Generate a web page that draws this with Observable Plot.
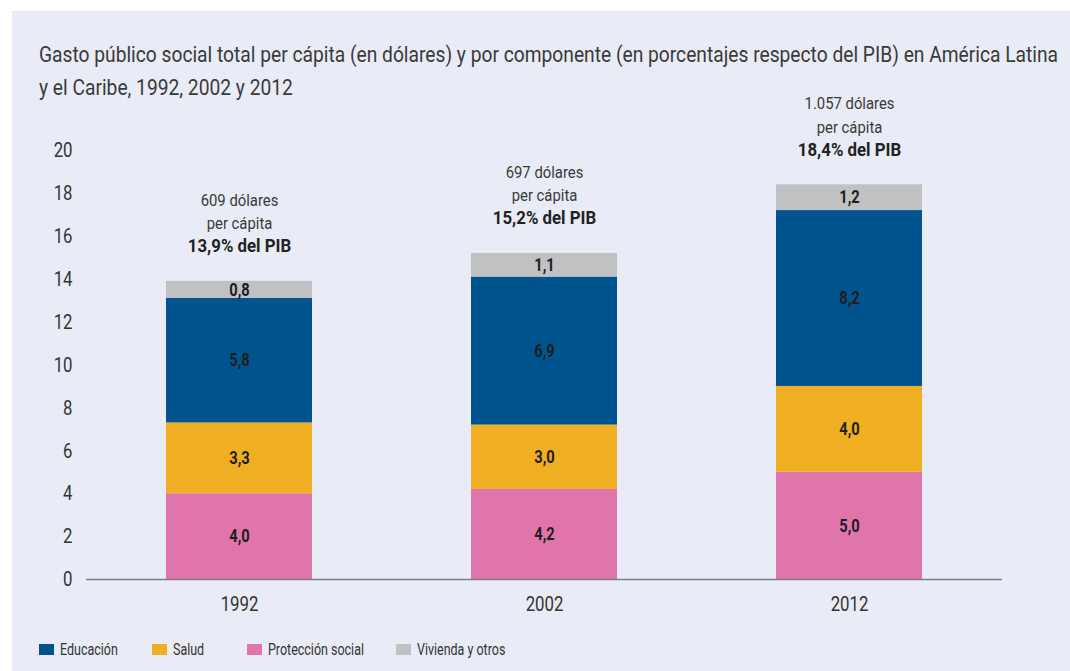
<!DOCTYPE html>
<html>
<head>
<meta charset="utf-8">
<script src="https://cdn.jsdelivr.net/npm/d3@7"></script>
<script src="https://cdn.jsdelivr.net/npm/@observablehq/plot@0.6"></script>
<style>
  html, body { margin: 0; padding: 0; background: #ffffff; }
  body { width: 1070px; height: 671px; position: relative; overflow: hidden;
         font-family: Roboto, "Noto Sans", sans-serif; }
  #panel { position: absolute; left: 12px; top: 11px; width: 1058px; height: 660px; background: #e9ecf6; }
  #title { position: absolute; left: 27px; top: 27px; margin: 0; font-size: 22px; line-height: 33px;
           color: #3a3a3a; font-weight: normal; white-space: nowrap; transform-origin: 0 0; }
  #chart { position: absolute; left: 0; top: 79px; }
  #legend { position: absolute; left: 0; top: 626px; width: 1058px; height: 24px; font-size: 16px; color: #333; }
  .item { position: absolute; top: 0; height: 24px; display: flex; align-items: center; white-space: nowrap; }
  .sw { width: 15px; height: 11px; margin-right: 6px; flex: none; }
  .lt { display: inline-block; transform: scaleX(0.78); transform-origin: 0 50%; }
</style>
</head>
<body>
<div id="panel">
  <div id="title"><span id="t1">Gasto público social total per cápita (en dólares) y por componente (en porcentajes respecto del PIB) en América Latina</span><br><span>y el Caribe, 1992, 2002 y 2012</span></div>
  <div id="chart"></div>
  <div id="legend"></div>
</div>
<script>
const years = ["1992", "2002", "2012"];
const components = ["Protección social", "Salud", "Educación", "Vivienda y otros"];
const proteccion = [4.0, 4.2, 5.0];
const salud = [3.3, 3.0, 4.0];
const educacion = [5.8, 6.9, 8.2];
const vivienda = [0.8, 1.1, 1.2];
const totalPIB = [13.9, 15.2, 18.4];
const dolares = ["609", "697", "1.057"];
const yTicks = [0, 2, 4, 6, 8, 10, 12, 14, 16, 18, 20];
const colors = ["#e075ab", "#f0ae22", "#00548e", "#c0c1c3"];
const legendOrder = ["Educación", "Salud", "Protección social", "Vivienda y otros"];
const legendLeft = [27, 140, 235, 384];

const series = [proteccion, salud, educacion, vivienda];
const fmt = v => v.toFixed(1).replace(".", ",");

const rows = [];
years.forEach((yr, i) => {
  let acc = 0;
  series.forEach((s, k) => {
    rows.push({year: yr, component: components[k], value: s[i], y1: acc, y2: acc + s[i]});
    acc += s[i];
  });
});
const totals = years.map((yr, i) => ({year: yr, total: totalPIB[i], dol: dolares[i]}));

const chart = Plot.plot({
  width: 1058,
  height: 530,
  marginTop: 60,
  marginBottom: 41,
  marginLeft: 74,
  marginRight: 68,
  style: {background: "transparent", fontFamily: "Roboto, sans-serif", color: "#333"},
  x: {domain: years, paddingInner: 0.52, paddingOuter: 0.26, label: null},
  y: {domain: [0, 20], ticks: yTicks, label: null},
  color: {domain: components, range: colors},
  marks: [
    Plot.barY(rows, {x: "year", y1: "y1", y2: "y2", fill: "component"}),
    Plot.ruleY([0], {stroke: "#808080", strokeWidth: 1.5}),
    Plot.text(rows, {x: "year", y: d => (d.y1 + d.y2) / 2, text: d => fmt(d.value),
      fill: "#1e1e1e", fontWeight: "bold", fontSize: 18}),
    Plot.text(totals, {x: "year", y: "total", text: d => `${d.dol} dólares\nper cápita`,
      lineAnchor: "bottom", lineHeight: 1.4375, dy: -52, fontSize: 16.5, fill: "#3a3a3a"}),
    Plot.text(totals, {x: "year", y: "total", text: d => `${fmt(d.total)}% del PIB`,
      lineAnchor: "bottom", dy: -29, fontSize: 18.5, fontWeight: "bold", fill: "#222"}),
    Plot.axisY({ticks: yTicks, tickSize: 0, tickPadding: 14, fontSize: 21, fill: "#333", label: null}),
    Plot.axisX({tickSize: 0, tickPadding: 17, fontSize: 21, fill: "#333", label: null})
  ]
});
document.getElementById("chart").appendChild(chart);

// condensed look: horizontal squeeze of each text around its own anchor
const squeeze = {"21": 0.8, "18": 0.82, "16.5": 0.9, "18.5": 0.91};
chart.querySelectorAll("text").forEach(t => {
  let el = t, fs = null;
  while (el && el !== chart) {
    if (el.getAttribute && el.getAttribute("font-size")) { fs = el.getAttribute("font-size"); break; }
    el = el.parentNode;
  }
  const s = squeeze[fs] ?? 0.85;
  const tr = t.getAttribute("transform") || "";
  t.setAttribute("transform", (tr + ` scale(${s},1)`).trim());
});

// title squeezed to the reference's line width
const title = document.getElementById("title");
const w1 = document.getElementById("t1").getBoundingClientRect().width;
title.style.transform = `scaleX(${1019 / w1})`;

const legend = document.getElementById("legend");
legendOrder.forEach((name, i) => {
  const it = document.createElement("div");
  it.className = "item";
  it.style.left = legendLeft[i] + "px";
  const sw = document.createElement("div");
  sw.className = "sw";
  sw.style.background = colors[components.indexOf(name)];
  const tx = document.createElement("span");
  tx.className = "lt";
  tx.textContent = name;
  it.appendChild(sw);
  it.appendChild(tx);
  legend.appendChild(it);
});
</script>
</body>
</html>
